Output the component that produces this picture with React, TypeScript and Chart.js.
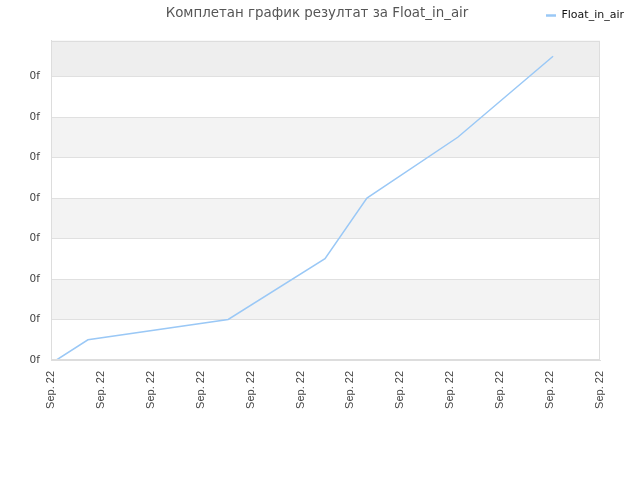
import React, { useEffect, useRef } from "react";
import { Chart, registerables } from "chart.js";

Chart.register(...registerables);

const chartTitle = "Комплетан график резултат за Float_in_air";
const seriesName = "Float_in_air";
const xValues = [0.11, 0.74, 3.55, 5.49, 6.33, 8.15, 10.06];
const yValues = [0, 0.5, 1, 2.5, 4, 5.5, 7.5];
const xTickLabels = [
  "Sep. 22", "Sep. 22", "Sep. 22", "Sep. 22", "Sep. 22", "Sep. 22",
  "Sep. 22", "Sep. 22", "Sep. 22", "Sep. 22", "Sep. 22", "Sep. 22",
];
const yTickLabels = ["0f", "0f", "0f", "0f", "0f", "0f", "0f", "0f"];
const xMax = 11;
const yMax = 7.887;

const bandsPlugin = {
  id: "bands",
  beforeDraw(chart: any) {
    const { ctx, chartArea } = chart;
    const y = chart.scales.y;
    if (!chartArea) return;
    ctx.save();
    const n = Math.ceil(yMax);
    for (let k = 0; k < n; k++) {
      const top = y.getPixelForValue(Math.min(k + 1, yMax));
      const bottom = y.getPixelForValue(k);
      let color: string | null = null;
      if (k + 1 > yMax) color = "#eeeeee";
      else if (k % 2 === 1) color = "#f3f3f3";
      if (color) {
        ctx.fillStyle = color;
        ctx.fillRect(chartArea.left, top, chartArea.right - chartArea.left, bottom - top);
      }
    }
    ctx.restore();
  },
  afterDraw(chart: any) {
    const { ctx, chartArea } = chart;
    ctx.save();
    ctx.strokeStyle = "#dddddd";
    ctx.lineWidth = 1;
    ctx.strokeRect(
      Math.round(chartArea.left) + 0.5,
      Math.round(chartArea.top) + 0.5,
      Math.round(chartArea.right - chartArea.left) - 1,
      Math.round(chartArea.bottom - chartArea.top) - 1
    );
    ctx.restore();
  },
};

export default function App() {
  const ref = useRef<HTMLCanvasElement | null>(null);

  useEffect(() => {
    if (!ref.current) return;
    const defaultGen = (Chart.defaults as any).plugins.legend.labels.generateLabels;
    const chart = new Chart(ref.current, {
      type: "line",
      data: {
        datasets: [
          {
            label: seriesName,
            data: xValues.map((x, i) => ({ x, y: yValues[i] })),
            borderColor: "#9ac8f6",
            backgroundColor: "#9ac8f6",
            borderWidth: 1.5,
            pointRadius: 0,
            pointHoverRadius: 0,
            tension: 0,
            fill: false,
          },
        ],
      },
      options: {
        responsive: false,
        animation: false,
        events: [],
        layout: { padding: { top: 0, right: 6, left: 0, bottom: 0 } },
        plugins: {
          legend: {
            display: true,
            position: "top",
            align: "end",
            weight: 3000,
            labels: {
              usePointStyle: true,
              pointStyle: "line",
              pointStyleWidth: 10,
              padding: 10,
              color: "#111111",
              font: { family: "DejaVu Sans", size: 11 },
              generateLabels: (c: any) =>
                defaultGen(c).map((l: any) => ({ ...l, lineWidth: 2.5 })),
            },
          } as any,
          title: {
            display: true,
            text: chartTitle,
            color: "#555555",
            font: { family: "DejaVu Sans", size: 13.4, weight: "normal" },
            padding: { top: -26, bottom: 19.5 },
          },
          tooltip: { enabled: false },
        },
        scales: {
          x: {
            type: "linear",
            min: 0,
            max: xMax,
            grid: { display: false, drawTicks: false },
            border: { display: true, color: "#dddddd" },
            ticks: {
              stepSize: 1,
              autoSkip: false,
              minRotation: 90,
              maxRotation: 90,
              padding: 11,
              color: "#444444",
              font: { family: "Liberation Sans", size: 11 },
              callback: (_v: any, i: number) => xTickLabels[i] ?? "",
            },
            afterFit: (s: any) => {
              s.height = 120;
              s.paddingRight = 40;
            },
          },
          y: {
            type: "linear",
            min: 0,
            max: yMax,
            grid: { color: "#e0e0e0", drawTicks: false },
            border: { display: true, color: "#dddddd" },
            ticks: {
              stepSize: 1,
              padding: 11,
              color: "#444444",
              font: { family: "DejaVu Sans", size: 10.5 },
              callback: (_v: any, i: number) => yTickLabels[i] ?? "",
            },
            afterBuildTicks: (s: any) => {
              s.ticks = s.ticks.filter((t: any) => Number.isInteger(t.value));
            },
            afterFit: (s: any) => {
              s.width = 51;
            },
          },
        },
      },
      plugins: [bandsPlugin],
    });
    return () => chart.destroy();
  }, []);

  return (
    <div style={{ position: "absolute", left: 0, top: 0, width: 640, height: 480, background: "#ffffff" }}>
      <canvas ref={ref} width={640} height={480} style={{ display: "block" }} />
    </div>
  );
}
